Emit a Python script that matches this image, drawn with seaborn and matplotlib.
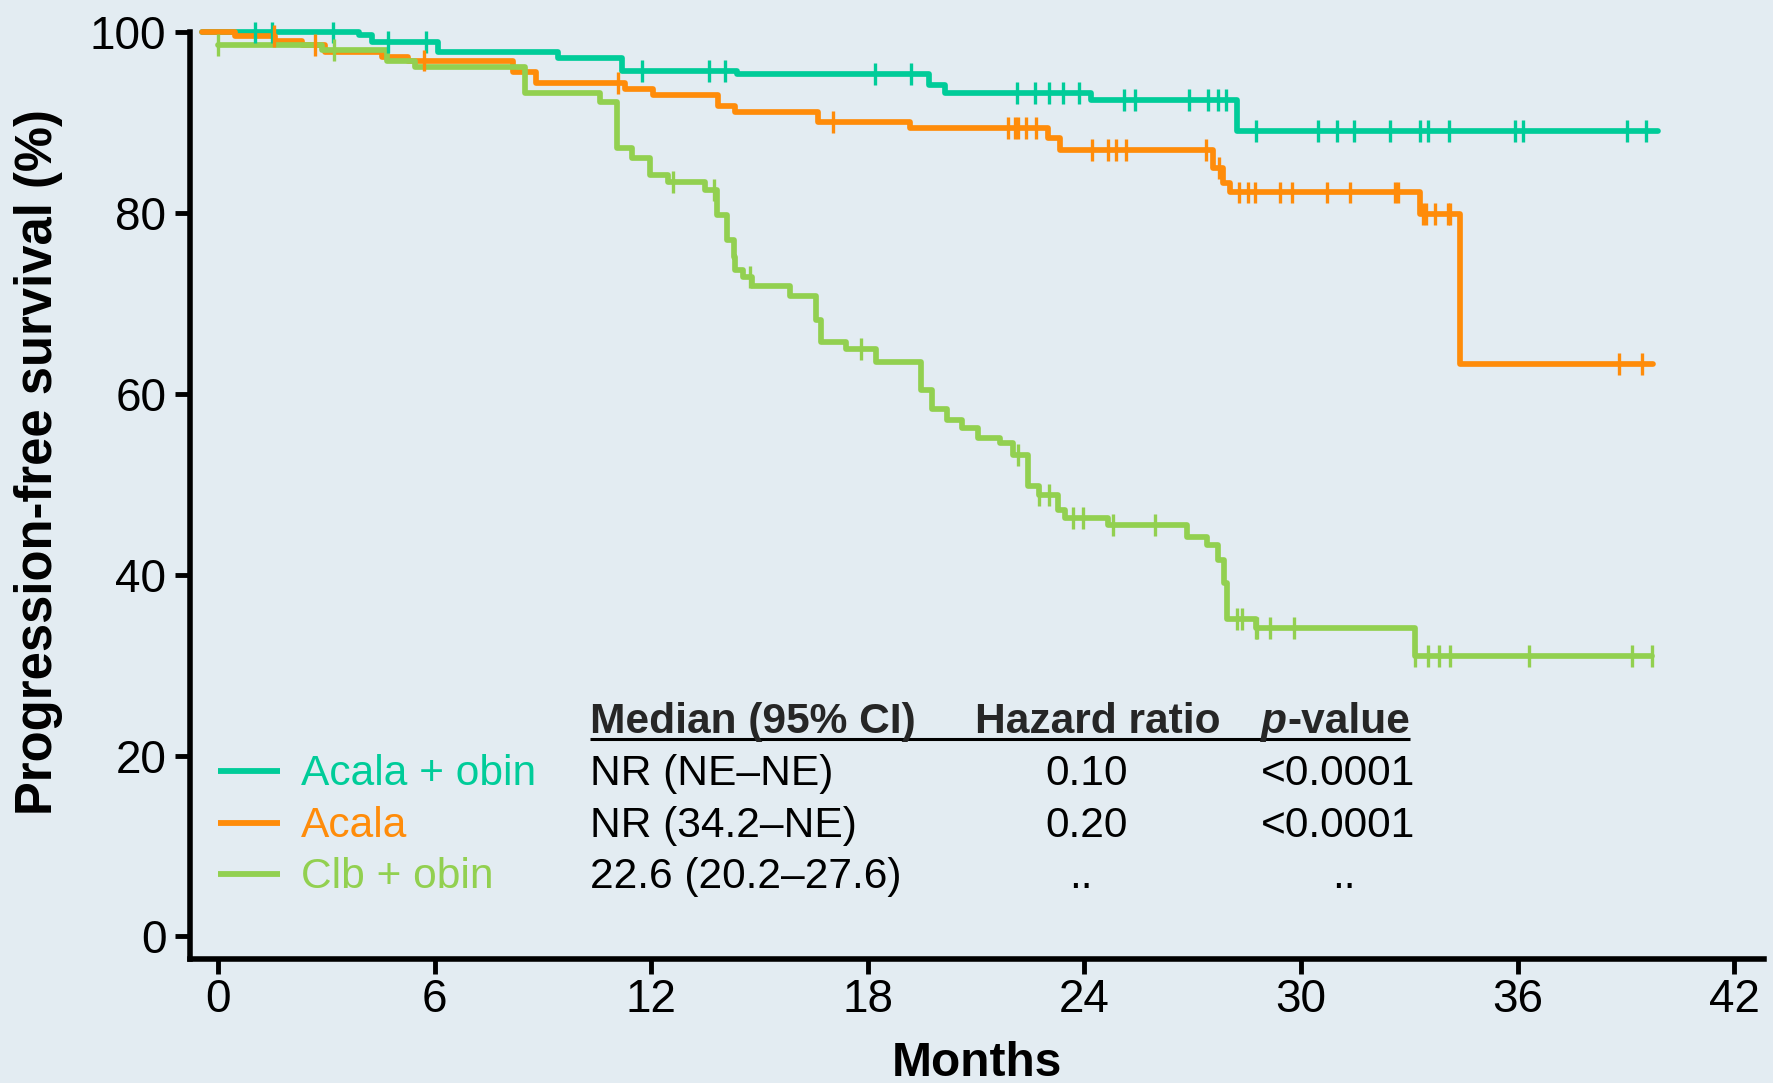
import numpy as np
import pandas as pd
import matplotlib
matplotlib.use("Agg")
import matplotlib.pyplot as plt
import seaborn as sns

# ---------------- data ----------------
arms = ["Acala + obin", "Acala", "Clb + obin"]
arm_colors = ["#00CC99", "#FF8C0A", "#92D050"]

# Acala + obin: step times (months) and PFS (%) after each step
ao_time = [-0.45, 3.91, 4.26, 6.10, 9.43, 11.2, 14.37, 19.7, 20.15, 24.17, 28.22, 39.9]
ao_pfs = [100, 99.7, 98.9, 97.8, 97.2, 95.7, 95.4, 94.2, 93.3, 92.5, 89.1, 89.1]
ao_cens = [1.02, 1.49, 3.17, 4.70, 5.75, 11.73, 13.59, 14.04, 18.2, 19.19, 22.13, 22.63,
           23.02, 23.40, 23.84, 25.09, 25.39, 26.9, 27.43, 27.69, 27.91, 28.75, 30.48,
           31.0, 31.47, 32.47, 33.31, 33.51, 34.1, 35.93, 36.16, 39.02, 39.55]

# Acala
a_time = [-0.45, 0.47, 1.58, 2.32, 2.96, 4.53, 5.27, 8.18, 8.82, 11.27, 12.05, 13.86,
          14.32, 16.63, 19.17, 23.0, 23.32, 27.57, 27.85, 28.03, 33.31, 34.4, 39.74]
a_pfs = [100, 99.6, 99.1, 98.6, 97.8, 97.3, 96.9, 95.6, 94.4, 93.7, 93.1, 91.9,
         91.2, 90.1, 89.4, 88.3, 87.0, 85.0, 83.3, 82.3, 79.9, 63.3, 63.3]
a_cens = [1.55, 2.69, 5.71, 11.09, 17.04, 21.89, 22.08, 22.17, 22.38, 22.66, 24.22,
          24.64, 24.88, 25.14, 27.36, 27.73, 28.27, 28.52, 28.73, 29.42, 29.74, 30.72,
          31.36, 32.6, 32.7, 33.39, 33.45, 33.71, 34.08, 34.14, 38.82, 39.44]

# Clb + obin
c_time = [0, 2.87, 4.67, 5.46, 8.5, 10.58, 11.06, 11.46, 11.97, 12.47, 13.49, 13.81,
          14.11, 14.28, 14.32, 14.53, 14.8, 15.84, 16.57, 16.69, 17.39, 18.23, 19.46,
          19.78, 20.19, 20.6, 21.06, 21.66, 22.03, 22.45, 22.73, 23.28, 23.46, 24.66,
          26.83, 27.39, 27.71, 27.87, 27.94, 28.75, 33.16, 39.73]
c_pfs = [98.6, 98.1, 96.8, 96.2, 93.3, 92.3, 87.2, 86.1, 84.2, 83.5, 82.6, 79.8,
         77.0, 75.2, 73.7, 73.0, 71.9, 70.8, 68.2, 65.8, 65.0, 63.6, 60.5,
         58.4, 57.1, 56.2, 55.1, 54.6, 53.3, 49.8, 48.8, 47.2, 46.3, 45.5,
         44.2, 43.3, 41.6, 39.1, 35.1, 34.1, 31.0, 31.0]
c_cens = [0, 3.21, 12.61, 13.75, 14.74, 17.82, 22.17, 22.73, 23.03, 23.67, 23.97, 24.78,
          25.96, 28.22, 28.36, 28.75, 28.79, 29.14, 29.81, 33.17, 33.51, 33.83, 34.14,
          36.32, 39.16, 39.73]

x_ticks = [0, 6, 12, 18, 24, 30, 36, 42]
y_ticks = [0, 20, 40, 60, 80, 100]

table_header = ["Median (95% CI)", "Hazard ratio", "p", "-value"]
medians = ["NR (NE\u2013NE)", "NR (34.2\u2013NE)", "22.6 (20.2\u201327.6)"]
hazard_ratios = ["0.10", "0.20", ".."]
p_values = ["<0.0001", "<0.0001", ".."]

# ---------------- build tables ----------------
series = [(ao_time, ao_pfs, ao_cens), (a_time, a_pfs, a_cens), (c_time, c_pfs, c_cens)]
step_rows, cens_rows = [], []
for arm, (t, s, cz) in zip(arms, series):
    t = np.asarray(t, float)
    s = np.asarray(s, float)
    step_rows.append(pd.DataFrame({"Months": t, "PFS": s, "Arm": arm}))
    cz = np.asarray(cz, float)
    idx = np.clip(np.searchsorted(t, cz, side="right") - 1, 0, len(s) - 1)
    cens_rows.append(pd.DataFrame({"Months": cz, "PFS": s[idx], "Arm": arm}))
steps = pd.concat(step_rows, ignore_index=True)
cens = pd.concat(cens_rows, ignore_index=True)
palette = dict(zip(arms, arm_colors))

# ---------------- figure ----------------
bg = "#E3ECF2"
sns.set_theme(style="ticks")
plt.rcParams["font.family"] = ["Liberation Sans", "DejaVu Sans"]

fig = plt.figure(figsize=(17.73, 10.83), dpi=100)
fig.patch.set_facecolor(bg)
ax = fig.add_axes([0.1072, 0.1145, 0.8878, 0.8555])
ax.set_facecolor(bg)

sns.lineplot(data=steps, x="Months", y="PFS", hue="Arm", palette=palette,
             estimator=None, sort=False, drawstyle="steps-post", linewidth=4.1,
             legend=False, ax=ax, clip_on=False, zorder=3)
sns.scatterplot(data=cens, x="Months", y="PFS", hue="Arm", palette=palette,
                marker="|", s=250, linewidth=2.4, legend=False, ax=ax,
                clip_on=False, zorder=4)

ax.set_xlim(-0.776, 42.83)
ax.set_ylim(-2.5, 100)
ax.set_xticks(x_ticks)
ax.set_yticks(y_ticks)
sns.despine(ax=ax)
for side in ("left", "bottom"):
    ax.spines[side].set_linewidth(4)
    ax.spines[side].set_color("black")
ax.tick_params(axis="both", width=3.5, length=11, color="black",
               labelsize=33, labelcolor="black")
ax.tick_params(axis="x", pad=3)
ax.tick_params(axis="y", pad=6)

ax.set_xlabel("Months", fontsize=34.5, fontweight="bold", color="black")
ax.set_ylabel("Progression-free survival (%)", fontsize=36.5, fontweight="bold",
              color="black")
ax.xaxis.set_label_coords(0.5, -0.0885)
ax.yaxis.set_label_coords(-0.081, 0.536)

# ---------------- legend + table ----------------
fs = 30.6
row_mid = [18.3, 12.6, 6.9]
row_base = [16.76, 11.0, 5.37]
for arm, col, ym, yb, med, hr, pv in zip(arms, arm_colors, row_mid, row_base,
                                         medians, hazard_ratios, p_values):
    ax.plot([0.0, 1.72], [ym, ym], color=col, lw=4.2, solid_capstyle="butt",
            clip_on=False)
    ax.text(2.3, yb, arm, color=col, fontsize=fs, va="baseline", ha="left")
    ax.text(10.3, yb, med, color="black", fontsize=fs, va="baseline", ha="left")
    if hr == "..":
        ax.text(23.9, yb, hr, color="black", fontsize=fs, va="baseline", ha="center")
        ax.text(31.2, yb, pv, color="black", fontsize=fs, va="baseline", ha="center")
    else:
        ax.text(24.06, yb, hr, color="black", fontsize=fs, va="baseline", ha="center")
        ax.text(28.9, yb, pv, color="black", fontsize=fs, va="baseline", ha="left")

hb = 22.5
ax.text(10.3, hb, table_header[0], fontsize=fs, fontweight="bold", va="baseline", ha="left")
ax.text(20.97, hb, table_header[1], fontsize=fs, fontweight="bold", va="baseline", ha="left")
ax.text(28.9, hb, table_header[2], fontsize=fs, fontweight="bold", style="italic",
        va="baseline", ha="left")
ax.text(33.02, hb, table_header[3], fontsize=fs, fontweight="bold", va="baseline", ha="right")
ax.plot([10.3, 33.02], [21.85, 21.85], color="black", lw=2.2, solid_capstyle="butt")

fig.savefig("out.png", dpi=100, facecolor=bg)
